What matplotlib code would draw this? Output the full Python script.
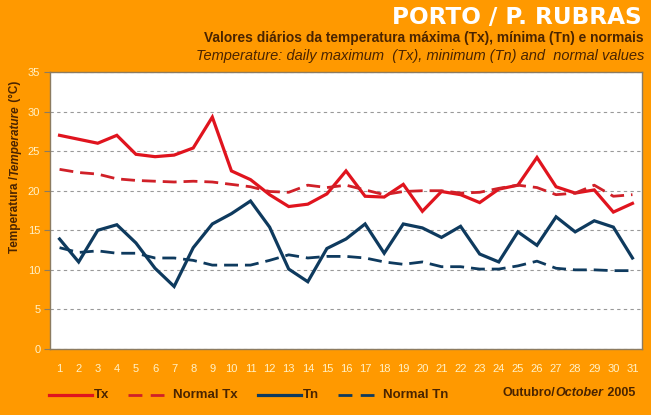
import matplotlib.pyplot as plt

plt.rcParams['font.family'] = ['Liberation Sans', 'DejaVu Sans']

# data (October 2005, Porto / P. Rubras)
days = list(range(1, 32))
tx = [27.0, 26.5, 26.0, 27.0, 24.6, 24.3, 24.5, 25.4, 29.3, 22.5, 21.4, 19.5, 18.0, 18.3, 19.6, 22.5,
      19.3, 19.2, 20.8, 17.4, 19.9, 19.5, 18.5, 20.2, 20.7, 24.2, 20.5, 19.7, 20.1, 17.3, 18.4]
normal_tx = [22.7, 22.3, 22.1, 21.5, 21.3, 21.2, 21.1, 21.2, 21.1, 20.8, 20.5, 19.9, 19.8, 20.7, 20.4, 20.7,
             20.1, 19.5, 19.9, 20.0, 20.0, 19.7, 19.8, 20.3, 20.7, 20.4, 19.5, 19.7, 20.7, 19.3, 19.5]
tn = [13.9, 11.0, 15.0, 15.7, 13.4, 10.2, 7.9, 12.8, 15.8, 17.1, 18.7, 15.4, 10.1, 8.5, 12.7, 13.9,
      15.8, 12.1, 15.8, 15.3, 14.1, 15.5, 12.0, 11.0, 14.8, 13.1, 16.7, 14.8, 16.2, 15.4, 11.5]
normal_tn = [12.8, 12.2, 12.4, 12.1, 12.1, 11.5, 11.5, 11.2, 10.6, 10.6, 10.6, 11.2, 11.9, 11.5, 11.7, 11.7,
             11.5, 11.0, 10.7, 11.0, 10.4, 10.4, 10.1, 10.1, 10.5, 11.1, 10.2, 10.0, 10.0, 9.9, 9.9]

orange = '#FF9900'
brown = '#4A2400'
light = '#FFF2C8'
red = '#E0141E'
red_n = '#D02028'
navy = '#0E3A5E'

W, H = 651, 415
fig = plt.figure(figsize=(W / 100, H / 100), dpi=100, facecolor=orange)
ax = fig.add_axes([50 / W, 66 / H, 592 / W, 277 / H])
ax.set_facecolor('white')

ax.plot(days, tx, color=red, lw=2.3, solid_joinstyle='miter')
ax.plot(days, normal_tx, color=red_n, lw=2.0, dashes=(5, 2.5))
ax.plot(days, tn, color=navy, lw=2.3, solid_joinstyle='miter')
ax.plot(days, normal_tn, color=navy, lw=2.0, dashes=(5, 2.5))

ax.set_xlim(0.5, 31.5)
ax.set_ylim(0, 35)
ax.set_yticks(range(0, 36, 5))
ax.set_xticks(days)
ax.grid(axis='y', color='#999999', linestyle=(0, (3, 3)), lw=0.8)
for s in ax.spines.values():
    s.set_color('#8C7B60')
    s.set_linewidth(1.0)
ax.tick_params(axis='y', colors='#8C7B60', labelcolor=light, labelsize=8, length=4, pad=3)
ax.tick_params(axis='x', length=0, labelcolor=light, labelsize=8, pad=11)

renderer = fig.canvas.get_renderer()


def run_of_text(parts, x, y, size, rotation=0):
    # place text pieces one after another (pixel coords), mixing upright and italic
    for s, style in parts:
        t = fig.text(x / W, y / H, s, rotation=rotation, rotation_mode='anchor',
                     ha='left', va='baseline', fontsize=size, fontweight='bold',
                     fontstyle=style, color=brown)
        bb = t.get_window_extent(renderer)
        if rotation:
            y += bb.height
        else:
            x += bb.width


# y label
run_of_text([('Temperatura /', 'normal'), ('Temperature', 'italic'), (' (°C)', 'normal')],
            18, H - 253, 8.5, rotation=90)

# titles
fig.text(642 / W, 1 - 18 / H, 'PORTO / P. RUBRAS', ha='right', va='center',
         color='white', fontsize=16.7, fontweight='bold', family='DejaVu Sans')
fig.text(644 / W, 1 - 38 / H, 'Valores diários da temperatura máxima (Tx), mínima (Tn) e normais',
         ha='right', va='center', color=brown, fontsize=9.9, fontweight='bold')
fig.text(644 / W, 1 - 56 / H, 'Temperature: daily maximum  (Tx), minimum (Tn) and  normal values',
         ha='right', va='center', color=brown, fontsize=10.5, fontstyle='italic')

# legend drawn by hand along the bottom
ly = 1 - 395 / H
fig.add_artist(plt.Line2D([49 / W, 92 / W], [ly, ly], color=red, lw=2.3))
fig.text(94 / W, ly, 'Tx', va='center', color=brown, fontsize=9.5, fontweight='bold')
fig.add_artist(plt.Line2D([128 / W, 164 / W], [ly, ly], color=red_n, lw=2.0, dashes=(5, 3)))
fig.text(173 / W, ly, 'Normal Tx', va='center', color=brown, fontsize=9.5, fontweight='bold')
fig.add_artist(plt.Line2D([258 / W, 301 / W], [ly, ly], color=navy, lw=2.3))
fig.text(303 / W, ly, 'Tn', va='center', color=brown, fontsize=9.5, fontweight='bold')
fig.add_artist(plt.Line2D([338 / W, 374 / W], [ly, ly], color=navy, lw=2.0, dashes=(5, 3)))
fig.text(383 / W, ly, 'Normal Tn', va='center', color=brown, fontsize=9.5, fontweight='bold')

run_of_text([('Outubro/', 'normal'), ('October', 'italic'), (' 2005', 'normal')],
            503, H - 396, 9)

fig.savefig('out.png', dpi=100, facecolor=orange)
